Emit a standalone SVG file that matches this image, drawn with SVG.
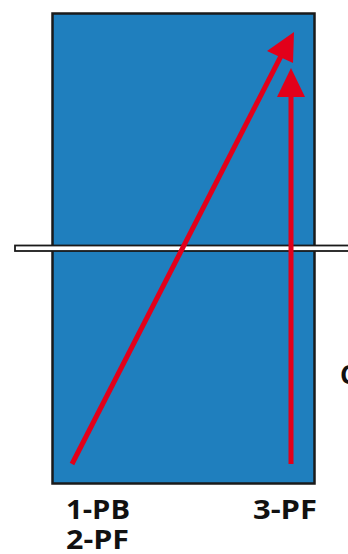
<svg xmlns="http://www.w3.org/2000/svg" width="348" height="554" viewBox="0 0 348 554">
<style>
.lbl{font-family:"Open Sans","Liberation Sans",sans-serif;font-weight:bold;font-size:26px;fill:#111}
.arr{stroke:#e2001a;stroke-width:5;fill:none}
.head{fill:#e2001a}
</style>
<rect width="348" height="554" fill="#fff"/>
<g id="panel">
<rect x="52.5" y="13.5" width="262" height="470" fill="#1f7fbe" stroke="#1a1a1a" stroke-width="2.5"/>
</g>
<g id="bar">
<rect x="15" y="245.5" width="340" height="5.5" fill="#fff" stroke="#1a1a1a" stroke-width="1.8"/>
</g>
<g id="connectors">
<line class="arr" x1="72" y1="464" x2="281" y2="56"/>
<polygon class="head" points="294,32 267,51 293,63"/>
<line class="arr" x1="291" y1="464" x2="291" y2="95"/>
<polygon class="head" points="291,68 277,97 305,97"/>
</g>
<g id="labels">
<text class="lbl" x="66" y="519" textLength="64" lengthAdjust="spacingAndGlyphs">1-PB</text>
<text class="lbl" x="66" y="549" textLength="63" lengthAdjust="spacingAndGlyphs">2-PF</text>
<text class="lbl" x="253" y="518.5" textLength="64" lengthAdjust="spacingAndGlyphs">3-PF</text>
<text class="lbl" x="340" y="384">C</text>
</g>
</svg>
